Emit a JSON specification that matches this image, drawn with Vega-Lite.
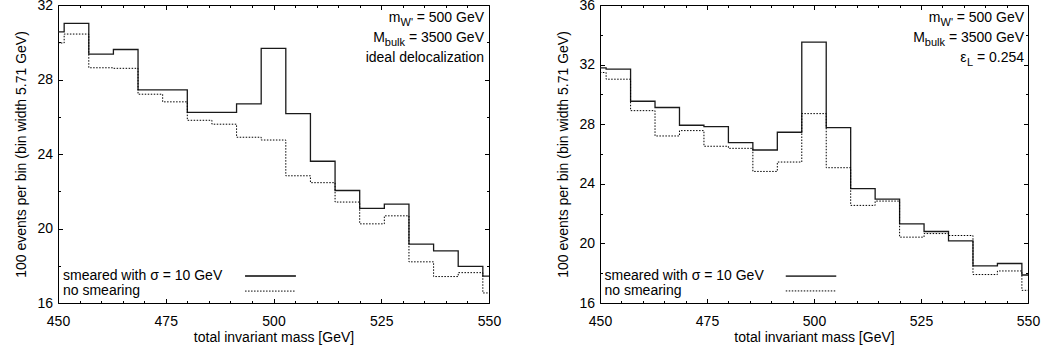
{
  "$schema": "https://vega.github.io/schema/vega-lite/v6.json",
  "padding": {"left": 14, "top": -3, "right": 0, "bottom": 0},
  "spacing": 111,
  "bounds": "flush",
  "config": {
    "view": {"stroke": "#000", "strokeWidth": 1},
    "axis": {"labelFont": "Liberation Sans", "labelFontSize": 14, "titleFont": "Liberation Sans", "titleFontSize": 14, "titleFontWeight": "normal", "labelColor": "#000", "titleColor": "#000", "tickColor": "#000", "tickWidth": 1, "domain": false, "grid": false, "labelFlush": false, "labelOverlap": false},
    "text": {"font": "Liberation Sans", "fontSize": 14, "color": "#000"}
  },
  "datasets": {
    "left": [
      {"mass": 448.57, "events": 30.56, "series": "smeared"},
      {"mass": 454.29, "events": 31.01, "series": "smeared"},
      {"mass": 460.0, "events": 29.36, "series": "smeared"},
      {"mass": 465.71, "events": 29.61, "series": "smeared"},
      {"mass": 471.43, "events": 27.44, "series": "smeared"},
      {"mass": 477.14, "events": 27.44, "series": "smeared"},
      {"mass": 482.86, "events": 26.24, "series": "smeared"},
      {"mass": 488.57, "events": 26.24, "series": "smeared"},
      {"mass": 494.29, "events": 26.69, "series": "smeared"},
      {"mass": 500.0, "events": 29.67, "series": "smeared"},
      {"mass": 505.71, "events": 26.17, "series": "smeared"},
      {"mass": 511.43, "events": 23.61, "series": "smeared"},
      {"mass": 517.14, "events": 22.04, "series": "smeared"},
      {"mass": 522.86, "events": 21.08, "series": "smeared"},
      {"mass": 528.57, "events": 21.31, "series": "smeared"},
      {"mass": 534.29, "events": 19.16, "series": "smeared"},
      {"mass": 540.0, "events": 18.8, "series": "smeared"},
      {"mass": 545.71, "events": 17.97, "series": "smeared"},
      {"mass": 551.43, "events": 17.44, "series": "smeared"},
      {"mass": 448.57, "events": 29.96, "series": "nosmear"},
      {"mass": 454.29, "events": 30.44, "series": "nosmear"},
      {"mass": 460.0, "events": 28.63, "series": "nosmear"},
      {"mass": 465.71, "events": 28.6, "series": "nosmear"},
      {"mass": 471.43, "events": 27.21, "series": "nosmear"},
      {"mass": 477.14, "events": 26.8, "series": "nosmear"},
      {"mass": 482.86, "events": 25.81, "series": "nosmear"},
      {"mass": 488.57, "events": 25.6, "series": "nosmear"},
      {"mass": 494.29, "events": 24.9, "series": "nosmear"},
      {"mass": 500.0, "events": 24.75, "series": "nosmear"},
      {"mass": 505.71, "events": 22.83, "series": "nosmear"},
      {"mass": 511.43, "events": 22.46, "series": "nosmear"},
      {"mass": 517.14, "events": 21.42, "series": "nosmear"},
      {"mass": 522.86, "events": 20.25, "series": "nosmear"},
      {"mass": 528.57, "events": 20.68, "series": "nosmear"},
      {"mass": 534.29, "events": 18.21, "series": "nosmear"},
      {"mass": 540.0, "events": 17.42, "series": "nosmear"},
      {"mass": 545.71, "events": 17.63, "series": "nosmear"},
      {"mass": 551.43, "events": 16.54, "series": "nosmear"}
    ],
    "right": [
      {"mass": 448.57, "events": 31.78, "series": "smeared"},
      {"mass": 454.29, "events": 31.7, "series": "smeared"},
      {"mass": 460.0, "events": 29.54, "series": "smeared"},
      {"mass": 465.71, "events": 29.12, "series": "smeared"},
      {"mass": 471.43, "events": 27.93, "series": "smeared"},
      {"mass": 477.14, "events": 27.84, "series": "smeared"},
      {"mass": 482.86, "events": 26.76, "series": "smeared"},
      {"mass": 488.57, "events": 26.27, "series": "smeared"},
      {"mass": 494.29, "events": 27.46, "series": "smeared"},
      {"mass": 500.0, "events": 33.51, "series": "smeared"},
      {"mass": 505.71, "events": 27.77, "series": "smeared"},
      {"mass": 511.43, "events": 23.67, "series": "smeared"},
      {"mass": 517.14, "events": 22.97, "series": "smeared"},
      {"mass": 522.86, "events": 21.31, "series": "smeared"},
      {"mass": 528.57, "events": 20.8, "series": "smeared"},
      {"mass": 534.29, "events": 20.17, "series": "smeared"},
      {"mass": 540.0, "events": 18.49, "series": "smeared"},
      {"mass": 545.71, "events": 18.65, "series": "smeared"},
      {"mass": 551.43, "events": 17.88, "series": "smeared"},
      {"mass": 448.57, "events": 31.47, "series": "nosmear"},
      {"mass": 454.29, "events": 31.02, "series": "nosmear"},
      {"mass": 460.0, "events": 28.91, "series": "nosmear"},
      {"mass": 465.71, "events": 27.21, "series": "nosmear"},
      {"mass": 471.43, "events": 27.57, "series": "nosmear"},
      {"mass": 477.14, "events": 26.52, "series": "nosmear"},
      {"mass": 482.86, "events": 26.38, "series": "nosmear"},
      {"mass": 488.57, "events": 24.83, "series": "nosmear"},
      {"mass": 494.29, "events": 25.46, "series": "nosmear"},
      {"mass": 500.0, "events": 28.71, "series": "nosmear"},
      {"mass": 505.71, "events": 25.08, "series": "nosmear"},
      {"mass": 511.43, "events": 22.55, "series": "nosmear"},
      {"mass": 517.14, "events": 22.84, "series": "nosmear"},
      {"mass": 522.86, "events": 20.42, "series": "nosmear"},
      {"mass": 528.57, "events": 20.66, "series": "nosmear"},
      {"mass": 534.29, "events": 20.53, "series": "nosmear"},
      {"mass": 540.0, "events": 17.91, "series": "nosmear"},
      {"mass": 545.71, "events": 18.15, "series": "nosmear"},
      {"mass": 551.43, "events": 16.85, "series": "nosmear"}
    ]
  },
  "hconcat": [
    {
      "width": 431,
      "height": 298,
      "data": {"name": "left"},
      "resolve": {"axis": {"x": "independent", "y": "independent"}},
      "layer": [
        {
          "transform": [{"filter": "datum.series === 'smeared'"}],
          "mark": {"type": "line", "interpolate": "step", "clip": true, "color": "#1a1a1a", "strokeWidth": 1.3},
          "encoding": {
            "x": {"field": "mass", "type": "quantitative", "scale": {"domain": [450, 550], "nice": false, "zero": false},
              "axis": {"orient": "bottom", "values": [450,455,460,465,470,475,480,485,490,495,500,505,510,515,520,525,530,535,540,545,550], "labelExpr": "datum.value % 25 === 0 ? datum.label : ''", "tickSize": {"condition": {"test": "datum.value % 25 === 0", "value": -4.5}, "value": -2.5}, "labelPadding": 16, "title": "total invariant mass [GeV]", "titlePadding": 0}},
            "y": {"field": "events", "type": "quantitative", "scale": {"domain": [16, 32], "nice": false, "zero": false},
              "axis": {"orient": "left", "values": [16,18,20,22,24,26,28,30,32], "labelExpr": "datum.value % 4 === 0 ? datum.label : ''", "tickSize": {"condition": {"test": "datum.value % 4 === 0", "value": -4.5}, "value": -2.5}, "labelPadding": 10, "title": "100 events per bin (bin width 5.71 GeV)", "titlePadding": 8}}
          }
        },
        {
          "transform": [{"filter": "datum.series === 'nosmear'"}],
          "mark": {"type": "line", "interpolate": "step", "clip": true, "color": "#000", "strokeWidth": 1, "strokeDash": [1.5, 1.5]},
          "encoding": {
            "x": {"field": "mass", "type": "quantitative", "axis": null},
            "y": {"field": "events", "type": "quantitative", "axis": null}
          }
        },
        {
          "mark": {"type": "line", "strokeOpacity": 0, "clip": true},
          "encoding": {
            "x": {"field": "mass", "type": "quantitative",
              "axis": {"orient": "top", "values": [450,455,460,465,470,475,480,485,490,495,500,505,510,515,520,525,530,535,540,545,550], "labels": false, "title": null, "tickSize": {"condition": {"test": "datum.value % 25 === 0", "value": -4.5}, "value": -2.5}}},
            "y": {"field": "events", "type": "quantitative",
              "axis": {"orient": "right", "values": [16,18,20,22,24,26,28,30,32], "labels": false, "title": null, "tickSize": {"condition": {"test": "datum.value % 4 === 0", "value": -4.5}, "value": -2.5}}}
          }
        },
        {"data": {"values": [{}]}, "mark": {"type": "text", "align": "right", "baseline": "alphabetic", "dx": -5, "dy": 17.3},
          "encoding": {"x": {"datum": 550, "type": "quantitative", "axis": null}, "y": {"datum": 32, "type": "quantitative", "axis": null}, "text": {"value": "= 500 GeV"}}},
        {"data": {"values": [{}]}, "mark": {"type": "text", "align": "right", "baseline": "alphabetic", "dx": -76, "dy": 20.8, "fontSize": 11},
          "encoding": {"x": {"datum": 550, "type": "quantitative", "axis": null}, "y": {"datum": 32, "type": "quantitative", "axis": null}, "text": {"value": "W'"}}},
        {"data": {"values": [{}]}, "mark": {"type": "text", "align": "right", "baseline": "alphabetic", "dx": -88.5, "dy": 17.3},
          "encoding": {"x": {"datum": 550, "type": "quantitative", "axis": null}, "y": {"datum": 32, "type": "quantitative", "axis": null}, "text": {"value": "m"}}},
        {"data": {"values": [{}]}, "mark": {"type": "text", "align": "right", "baseline": "alphabetic", "dx": -5, "dy": 37.3},
          "encoding": {"x": {"datum": 550, "type": "quantitative", "axis": null}, "y": {"datum": 32, "type": "quantitative", "axis": null}, "text": {"value": "= 3500 GeV"}}},
        {"data": {"values": [{}]}, "mark": {"type": "text", "align": "right", "baseline": "alphabetic", "dx": -84, "dy": 40.8, "fontSize": 11},
          "encoding": {"x": {"datum": 550, "type": "quantitative", "axis": null}, "y": {"datum": 32, "type": "quantitative", "axis": null}, "text": {"value": "bulk"}}},
        {"data": {"values": [{}]}, "mark": {"type": "text", "align": "right", "baseline": "alphabetic", "dx": -104, "dy": 37.3},
          "encoding": {"x": {"datum": 550, "type": "quantitative", "axis": null}, "y": {"datum": 32, "type": "quantitative", "axis": null}, "text": {"value": "M"}}},
        {"data": {"values": [{}]}, "mark": {"type": "text", "align": "right", "baseline": "alphabetic", "dx": -5, "dy": 57.3},
          "encoding": {"x": {"datum": 550, "type": "quantitative", "axis": null}, "y": {"datum": 32, "type": "quantitative", "axis": null}, "text": {"value": "ideal delocalization"}}},
        {"data": {"values": [{}]}, "mark": {"type": "text", "align": "left", "baseline": "alphabetic", "dx": 5, "dy": -23},
          "encoding": {"x": {"datum": 450, "type": "quantitative", "axis": null}, "y": {"datum": 16, "type": "quantitative", "axis": null}, "text": {"value": "smeared with σ = 10 GeV"}}},
        {"data": {"values": [{}]}, "mark": {"type": "text", "align": "left", "baseline": "alphabetic", "dx": 5, "dy": -8},
          "encoding": {"x": {"datum": 450, "type": "quantitative", "axis": null}, "y": {"datum": 16, "type": "quantitative", "axis": null}, "text": {"value": "no smearing"}}},
        {"data": {"values": [{}]}, "mark": {"type": "rule", "color": "#444", "strokeWidth": 1.8},
          "encoding": {"x": {"datum": 493.4, "type": "quantitative", "axis": null}, "x2": {"datum": 505.2}, "y": {"datum": 17.45, "type": "quantitative", "axis": null}}},
        {"data": {"values": [{}]}, "mark": {"type": "rule", "color": "#000", "strokeWidth": 1, "strokeDash": [1.5, 1.5]},
          "encoding": {"x": {"datum": 493.4, "type": "quantitative", "axis": null}, "x2": {"datum": 505.2}, "y": {"datum": 16.64, "type": "quantitative", "axis": null}}}
      ]
    },
    {
      "width": 428,
      "height": 298,
      "data": {"name": "right"},
      "resolve": {"axis": {"x": "independent", "y": "independent"}},
      "layer": [
        {
          "transform": [{"filter": "datum.series === 'smeared'"}],
          "mark": {"type": "line", "interpolate": "step", "clip": true, "color": "#1a1a1a", "strokeWidth": 1.3},
          "encoding": {
            "x": {"field": "mass", "type": "quantitative", "scale": {"domain": [450, 550], "nice": false, "zero": false},
              "axis": {"orient": "bottom", "values": [450,455,460,465,470,475,480,485,490,495,500,505,510,515,520,525,530,535,540,545,550], "labelExpr": "datum.value % 25 === 0 ? datum.label : ''", "tickSize": {"condition": {"test": "datum.value % 25 === 0", "value": -4.5}, "value": -2.5}, "labelPadding": 16, "title": "total invariant mass [GeV]", "titlePadding": 0}},
            "y": {"field": "events", "type": "quantitative", "scale": {"domain": [16, 36], "nice": false, "zero": false},
              "axis": {"orient": "left", "values": [16,18,20,22,24,26,28,30,32,34,36], "labelExpr": "datum.value % 4 === 0 ? datum.label : ''", "tickSize": {"condition": {"test": "datum.value % 4 === 0", "value": -4.5}, "value": -2.5}, "labelPadding": 10, "title": "100 events per bin (bin width 5.71 GeV)", "titlePadding": 8}}
          }
        },
        {
          "transform": [{"filter": "datum.series === 'nosmear'"}],
          "mark": {"type": "line", "interpolate": "step", "clip": true, "color": "#000", "strokeWidth": 1, "strokeDash": [1.5, 1.5]},
          "encoding": {
            "x": {"field": "mass", "type": "quantitative", "axis": null},
            "y": {"field": "events", "type": "quantitative", "axis": null}
          }
        },
        {
          "mark": {"type": "line", "strokeOpacity": 0, "clip": true},
          "encoding": {
            "x": {"field": "mass", "type": "quantitative",
              "axis": {"orient": "top", "values": [450,455,460,465,470,475,480,485,490,495,500,505,510,515,520,525,530,535,540,545,550], "labels": false, "title": null, "tickSize": {"condition": {"test": "datum.value % 25 === 0", "value": -4.5}, "value": -2.5}}},
            "y": {"field": "events", "type": "quantitative",
              "axis": {"orient": "right", "values": [16,18,20,22,24,26,28,30,32,34,36], "labels": false, "title": null, "tickSize": {"condition": {"test": "datum.value % 4 === 0", "value": -4.5}, "value": -2.5}}}
          }
        },
        {"data": {"values": [{}]}, "mark": {"type": "text", "align": "right", "baseline": "alphabetic", "dx": -4, "dy": 17.3},
          "encoding": {"x": {"datum": 550, "type": "quantitative", "axis": null}, "y": {"datum": 36, "type": "quantitative", "axis": null}, "text": {"value": "= 500 GeV"}}},
        {"data": {"values": [{}]}, "mark": {"type": "text", "align": "right", "baseline": "alphabetic", "dx": -75, "dy": 20.8, "fontSize": 11},
          "encoding": {"x": {"datum": 550, "type": "quantitative", "axis": null}, "y": {"datum": 36, "type": "quantitative", "axis": null}, "text": {"value": "W'"}}},
        {"data": {"values": [{}]}, "mark": {"type": "text", "align": "right", "baseline": "alphabetic", "dx": -87.5, "dy": 17.3},
          "encoding": {"x": {"datum": 550, "type": "quantitative", "axis": null}, "y": {"datum": 36, "type": "quantitative", "axis": null}, "text": {"value": "m"}}},
        {"data": {"values": [{}]}, "mark": {"type": "text", "align": "right", "baseline": "alphabetic", "dx": -4, "dy": 37.3},
          "encoding": {"x": {"datum": 550, "type": "quantitative", "axis": null}, "y": {"datum": 36, "type": "quantitative", "axis": null}, "text": {"value": "= 3500 GeV"}}},
        {"data": {"values": [{}]}, "mark": {"type": "text", "align": "right", "baseline": "alphabetic", "dx": -83, "dy": 40.8, "fontSize": 11},
          "encoding": {"x": {"datum": 550, "type": "quantitative", "axis": null}, "y": {"datum": 36, "type": "quantitative", "axis": null}, "text": {"value": "bulk"}}},
        {"data": {"values": [{}]}, "mark": {"type": "text", "align": "right", "baseline": "alphabetic", "dx": -103, "dy": 37.3},
          "encoding": {"x": {"datum": 550, "type": "quantitative", "axis": null}, "y": {"datum": 36, "type": "quantitative", "axis": null}, "text": {"value": "M"}}},
        {"data": {"values": [{}]}, "mark": {"type": "text", "align": "right", "baseline": "alphabetic", "dx": -4, "dy": 57.3},
          "encoding": {"x": {"datum": 550, "type": "quantitative", "axis": null}, "y": {"datum": 36, "type": "quantitative", "axis": null}, "text": {"value": "= 0.254"}}},
        {"data": {"values": [{}]}, "mark": {"type": "text", "align": "right", "baseline": "alphabetic", "dx": -55, "dy": 60.8, "fontSize": 11},
          "encoding": {"x": {"datum": 550, "type": "quantitative", "axis": null}, "y": {"datum": 36, "type": "quantitative", "axis": null}, "text": {"value": "L"}}},
        {"data": {"values": [{}]}, "mark": {"type": "text", "align": "right", "baseline": "alphabetic", "dx": -61.5, "dy": 57.3},
          "encoding": {"x": {"datum": 550, "type": "quantitative", "axis": null}, "y": {"datum": 36, "type": "quantitative", "axis": null}, "text": {"value": "ε"}}},
        {"data": {"values": [{}]}, "mark": {"type": "text", "align": "left", "baseline": "alphabetic", "dx": 4.5, "dy": -23},
          "encoding": {"x": {"datum": 450, "type": "quantitative", "axis": null}, "y": {"datum": 16, "type": "quantitative", "axis": null}, "text": {"value": "smeared with σ = 10 GeV"}}},
        {"data": {"values": [{}]}, "mark": {"type": "text", "align": "left", "baseline": "alphabetic", "dx": 4.5, "dy": -8},
          "encoding": {"x": {"datum": 450, "type": "quantitative", "axis": null}, "y": {"datum": 16, "type": "quantitative", "axis": null}, "text": {"value": "no smearing"}}},
        {"data": {"values": [{}]}, "mark": {"type": "rule", "color": "#444", "strokeWidth": 1.8},
          "encoding": {"x": {"datum": 493.4, "type": "quantitative", "axis": null}, "x2": {"datum": 505.2}, "y": {"datum": 17.81, "type": "quantitative", "axis": null}}},
        {"data": {"values": [{}]}, "mark": {"type": "rule", "color": "#000", "strokeWidth": 1, "strokeDash": [1.5, 1.5]},
          "encoding": {"x": {"datum": 493.4, "type": "quantitative", "axis": null}, "x2": {"datum": 505.2}, "y": {"datum": 16.81, "type": "quantitative", "axis": null}}}
      ]
    }
  ]
}
